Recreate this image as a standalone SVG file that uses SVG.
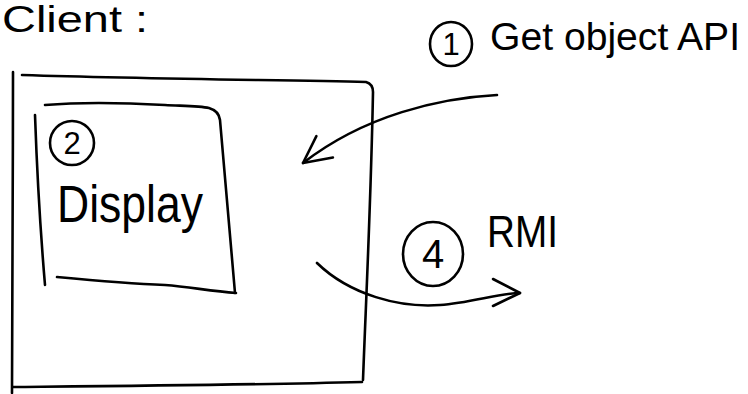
<svg xmlns="http://www.w3.org/2000/svg" width="748" height="394" viewBox="0 0 748 394">
  <style>
    .ink { fill: none; stroke: #000; stroke-width: 2.6; stroke-linecap: round; stroke-linejoin: round; }
    .txt { font-family: "Liberation Sans", Arial, sans-serif; fill: #000; }
  </style>
  <defs>
    <marker id="openArrow" markerUnits="userSpaceOnUse" viewBox="-34 -20 40 40" refX="0" refY="0" markerWidth="40" markerHeight="40" orient="auto" overflow="visible">
      <path d="M-27,-14 L0,0 L-27,13" fill="none" stroke="#000" stroke-width="2.6" stroke-linecap="round" stroke-linejoin="round"/>
    </marker>
  </defs>
  <rect width="748" height="394" fill="#fff"/>

  <g id="client-label">
    <text class="txt" x="2" y="32" font-size="36" textLength="146" lengthAdjust="spacingAndGlyphs">Client :</text>
  </g>

  <g id="client">
    <path class="ink" d="M13,72 C13,180 12,290 12,393"/>
    <path class="ink" d="M22,75 C150,79 280,80 366,82 Q373,84 373,92 C371,200 366,300 363,380"/>
    <path class="ink" d="M13,387 C120,386 250,385 362,382"/>
  </g>

  <g id="display">
    <path class="ink" d="M45,105 C80,102 130,103 165,105 C185,106 200,106 209,108 Q219,111 220,120 C224,170 230,230 235,293"/>
    <path class="ink" d="M35,115 C38,200 42,250 45,285"/>
    <path class="ink" d="M57,277 C100,281 140,284 165,285 C190,287 210,291 236,293"/>
    <ellipse class="ink" cx="72" cy="143" rx="22" ry="22"/>
    <text class="txt" x="72" y="154" font-size="31" text-anchor="middle">2</text>
    <text class="txt" x="57" y="222" font-size="51" textLength="146" lengthAdjust="spacingAndGlyphs">Display</text>
  </g>

  <g id="get-object-api">
    <ellipse class="ink" cx="451" cy="44" rx="21" ry="22"/>
    <text class="txt" x="451" y="55" font-size="31" text-anchor="middle">1</text>
    <text class="txt" x="490" y="50" font-size="39" textLength="250" lengthAdjust="spacingAndGlyphs">Get object API</text>
  </g>

  <g id="rmi">
    <ellipse class="ink" cx="433" cy="254" rx="30" ry="32"/>
    <text class="txt" x="433" y="268" font-size="40" text-anchor="middle">4</text>
    <text class="txt" x="487" y="247" font-size="44" textLength="71" lengthAdjust="spacingAndGlyphs">RMI</text>
  </g>

  <g id="connectors">
    <path class="ink" d="M497,95 C440,98 365,115 303,163" marker-end="url(#openArrow)"/>
    <path class="ink" d="M317,263 C350,295 400,308 440,305 C470,303 500,293 520,293" marker-end="url(#openArrow)"/>
  </g>
</svg>
